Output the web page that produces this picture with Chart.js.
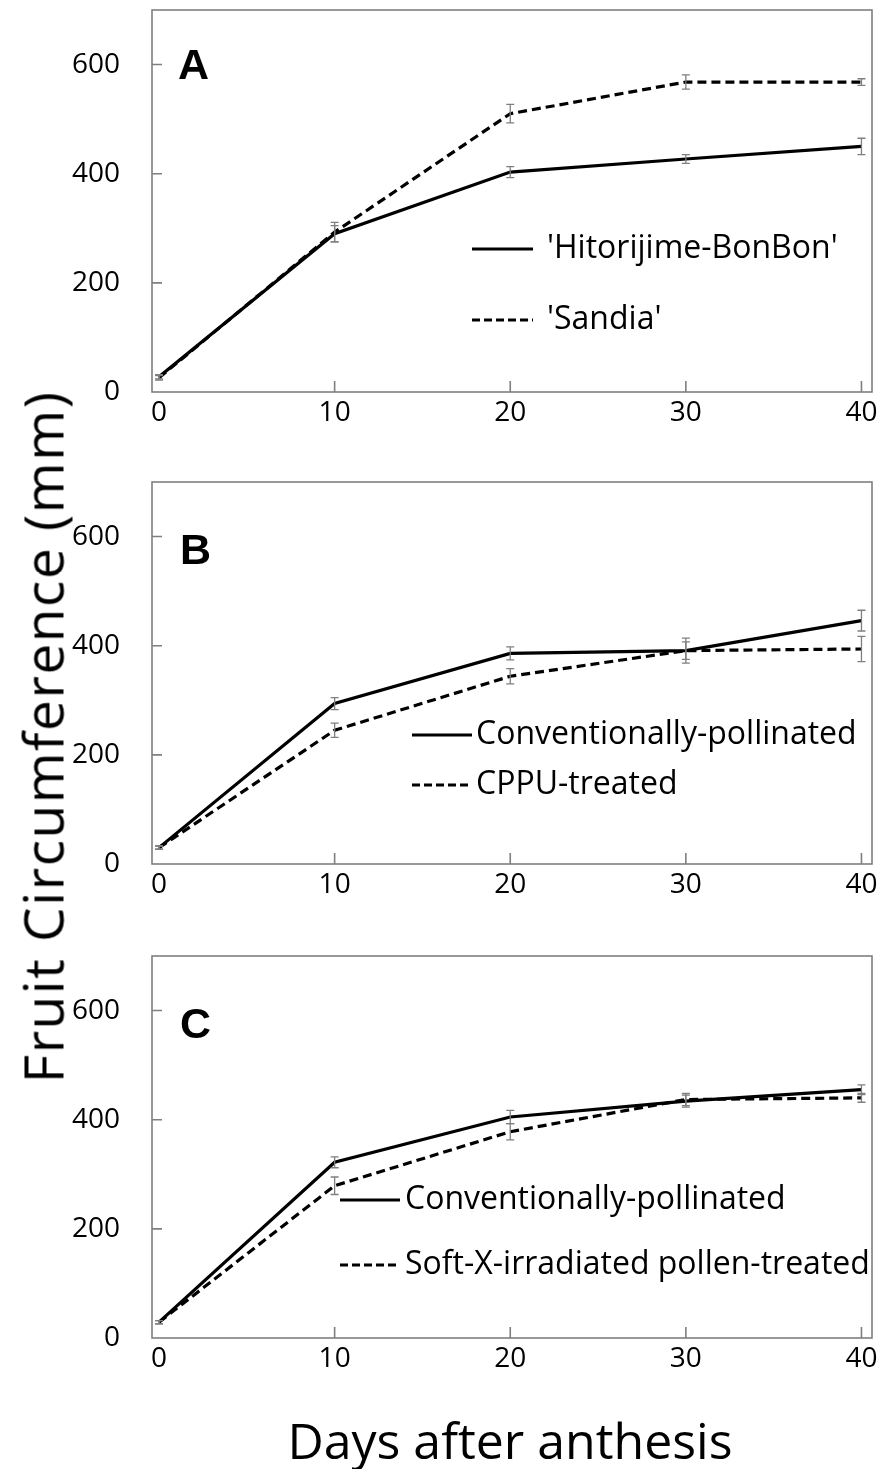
<!DOCTYPE html>
<html>
<head>
<meta charset="utf-8">
<script src="https://cdn.jsdelivr.net/npm/chart.js@4.4.1/dist/chart.umd.min.js"></script>
<style>
body { margin: 0; background: #fff; }
#wrap { position: relative; width: 880px; height: 1469px; font-family: "Open Sans", sans-serif; color: #000; }
#wrap canvas { position: absolute; left: 0; }
#ytitle { position: absolute; left: 42px; top: 737px; transform: translate(-50%, -50%) rotate(-90deg); white-space: nowrap; font-size: 55px; letter-spacing: 1.5px; }
#xtitle { position: absolute; left: 510px; top: 1440px; transform: translate(-50%, -50%); white-space: nowrap; font-size: 50px; }
</style>
</head>
<body>
<div id="wrap">
  <canvas id="chartA" width="880" height="436" style="top:0px"></canvas>
  <canvas id="chartB" width="880" height="436" style="top:472px"></canvas>
  <canvas id="chartC" width="880" height="436" style="top:946px"></canvas>
  <div id="ytitle">Fruit Circumference (mm)</div>
  <div id="xtitle">Days after anthesis</div>
</div>
<script>
// data
var days = [0, 10, 20, 30, 40];
var xTicks = [0, 10, 20, 30, 40];
var yTicks = [0, 200, 400, 600];

// A: cultivars
var namesA = ["'Hitorijime-BonBon'", "'Sandia'"];
var bonbonA = [28, 290, 403, 427, 450];
var bonbonErrA = [4, 15, 10, 8, 15];
var sandiaA = [26, 293, 510, 568, 568];
var sandiaErrA = [4, 18, 17, 13, 6];

// B: CPPU
var namesB = ["Conventionally-pollinated", "CPPU-treated"];
var convB = [30, 294, 386, 391, 446];
var convErrB = [3, 11, 12, 23, 19];
var cppuB = [30, 245, 344, 391, 394];
var cppuErrB = [3, 13, 14, 16, 23];

// C: soft-X pollen
var namesC = ["Conventionally-pollinated", "Soft-X-irradiated pollen-treated"];
var convC = [29, 322, 405, 434, 455];
var convErrC = [3, 10, 12, 11, 9];
var softxC = [29, 279, 378, 437, 440];
var softxErrC = [3, 16, 15, 11, 8];

var GREY = '#7f7f7f';
var DASH = [9, 5];

function pts(vals) {
    return days.map(function(d, i) { return { x: d, y: vals[i] }; });
}

// error bars, frame, inner tick marks, legend and panel letter
var extras = {
    id: 'extras',
    afterDatasetsDraw: function(chart) {
        var ctx = chart.ctx, xs = chart.scales.x, ys = chart.scales.y;
        ctx.save();
        ctx.strokeStyle = GREY;
        ctx.lineWidth = 1.3;
        chart.data.datasets.forEach(function(ds) {
            ds.data.forEach(function(p, i) {
                var px = xs.getPixelForValue(p.x);
                var t = ys.getPixelForValue(p.y + ds.errors[i]);
                var b = ys.getPixelForValue(p.y - ds.errors[i]);
                ctx.beginPath();
                ctx.moveTo(px, t); ctx.lineTo(px, b);
                ctx.moveTo(px - 4, t); ctx.lineTo(px + 4, t);
                ctx.moveTo(px - 4, b); ctx.lineTo(px + 4, b);
                ctx.stroke();
            });
        });
        ctx.restore();
    },
    afterDraw: function(chart, args, opts) {
        var ctx = chart.ctx, a = chart.chartArea;
        var xs = chart.scales.x, ys = chart.scales.y;
        ctx.save();
        ctx.strokeStyle = GREY;
        ctx.lineWidth = 1.6;
        ctx.strokeRect(a.left, a.top, a.right - a.left, a.bottom - a.top);
        ctx.beginPath();
        yTicks.forEach(function(v) {
            if (v === 0) return;
            var py = ys.getPixelForValue(v);
            ctx.moveTo(a.left, py); ctx.lineTo(a.left + 10, py);
        });
        xTicks.forEach(function(v) {
            if (v === 0) return;
            var px = xs.getPixelForValue(v);
            ctx.moveTo(px, a.bottom); ctx.lineTo(px, a.bottom - 11);
        });
        ctx.stroke();

        // legend
        ctx.strokeStyle = '#000';
        ctx.lineWidth = 3.2;
        ctx.fillStyle = '#000';
        ctx.font = opts.fontSize + 'px "Open Sans"';
        ctx.textBaseline = 'middle';
        opts.names.forEach(function(name, i) {
            var y = opts.rows[i];
            ctx.setLineDash(i === 0 ? [] : [8, 4]);
            ctx.beginPath();
            ctx.moveTo(opts.lineX[0], y); ctx.lineTo(opts.lineX[1], y);
            ctx.stroke();
            ctx.fillText(name, opts.textX, y);
        });
        ctx.setLineDash([]);

        // panel letter
        ctx.font = 'bold 43px "Liberation Sans"';
        ctx.fillText(opts.letter, opts.letterX, opts.letterY);
        ctx.restore();
    }
};

function makeChart(id, names, s1, e1, s2, e2, legendOpts) {
    var ctx = document.getElementById(id).getContext('2d');
    legendOpts.names = names;
    return new Chart(ctx, {
        type: 'line',
        data: {
            datasets: [{
                label: names[0],
                data: pts(s1),
                errors: e1,
                borderColor: '#000',
                borderWidth: 3.2,
                pointRadius: 0,
                tension: 0
            }, {
                label: names[1],
                data: pts(s2),
                errors: e2,
                borderColor: '#000',
                borderWidth: 3.2,
                borderDash: DASH,
                pointRadius: 0,
                tension: 0
            }]
        },
        options: {
            responsive: false,
            animation: false,
            devicePixelRatio: 1,
            layout: { padding: { top: 10, right: 8, left: 0, bottom: 0 } },
            plugins: {
                legend: { display: false },
                tooltip: { enabled: false },
                extras: legendOpts
            },
            scales: {
                x: {
                    type: 'linear',
                    min: -0.4,
                    max: 40.6,
                    grid: { display: false, drawTicks: false, tickLength: 0 },
                    border: { display: false },
                    afterBuildTicks: function(s) { s.ticks = xTicks.map(function(v) { return { value: v }; }); },
                    afterFit: function(s) { s.height = 44; s.paddingLeft = 0; s.paddingRight = 0; },
                    ticks: { color: '#000', padding: 4, font: { family: 'Open Sans', size: 28 } }
                },
                y: {
                    min: 0,
                    max: 700,
                    grid: { display: false, drawTicks: false, tickLength: 0 },
                    border: { display: false },
                    afterBuildTicks: function(s) { s.ticks = yTicks.map(function(v) { return { value: v }; }); },
                    afterFit: function(s) { s.width = 152; s.paddingTop = 0; s.paddingBottom = 0; },
                    ticks: { color: '#000', padding: 32, font: { family: 'Open Sans', size: 28 } }
                }
            }
        },
        plugins: [extras]
    });
}

makeChart('chartA', namesA, bonbonA, bonbonErrA, sandiaA, sandiaErrA,
    { fontSize: 32, lineX: [472, 533], textX: 547, rows: [249, 320], letter: 'A', letterX: 178, letterY: 67 });
makeChart('chartB', namesB, convB, convErrB, cppuB, cppuErrB,
    { fontSize: 32, lineX: [412, 472], textX: 476, rows: [263, 313], letter: 'B', letterX: 180, letterY: 80 });
makeChart('chartC', namesC, convC, convErrC, softxC, softxErrC,
    { fontSize: 32, lineX: [340, 400], textX: 405, rows: [254, 319], letter: 'C', letterX: 180, letterY: 80 });
</script>
</body>
</html>
